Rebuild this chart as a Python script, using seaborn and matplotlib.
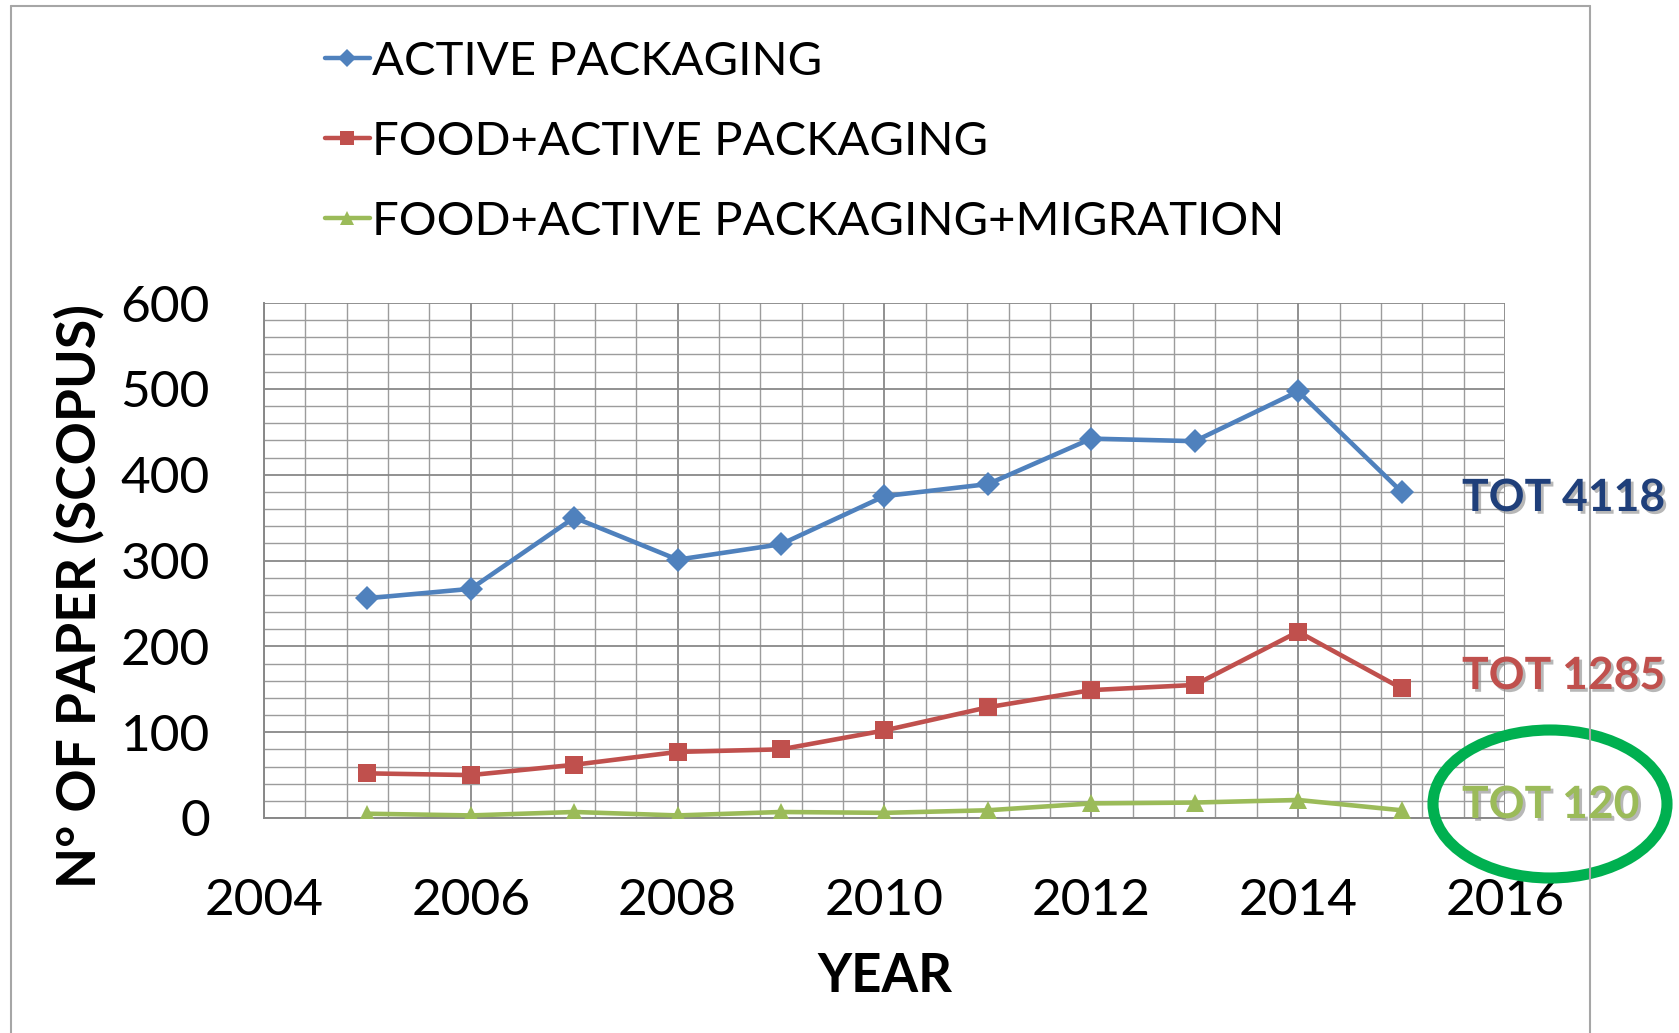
import numpy as np
import pandas as pd
import matplotlib
matplotlib.use("Agg")
import matplotlib.pyplot as plt
import matplotlib.patheffects as pe
from matplotlib.patches import Ellipse
from matplotlib.lines import Line2D
from matplotlib.ticker import MultipleLocator, FixedLocator
import seaborn as sns

# ---- data ----
years = [2005, 2006, 2007, 2008, 2009, 2010, 2011, 2012, 2013, 2014, 2015]
active_packaging = [256, 267, 350, 301, 319, 375, 389, 442, 439, 497, 380]
food_active_packaging = [52, 50, 62, 77, 80, 102, 129, 149, 155, 217, 151]
food_active_packaging_migration = [5, 3, 7, 3, 7, 6, 9, 17, 18, 21, 9]
series_names = ["ACTIVE PACKAGING", "FOOD+ACTIVE PACKAGING", "FOOD+ACTIVE PACKAGING+MIGRATION"]
totals = ["TOT 4118", "TOT 1285", "TOT 120"]
x_ticks = [2004, 2006, 2008, 2010, 2012, 2014, 2016]
y_ticks = [0, 100, 200, 300, 400, 500, 600]

colors = ["#4F81BD", "#C0504D", "#9BBB59"]
tot_colors = ["#1F3F7A", "#C0504D", "#9BBB59"]
markers = ["D", "s", "^"]
msizes = [12, 13, 13]

sns.set_theme(style="white")
plt.rcParams["font.family"] = ["Lato", "DejaVu Sans"]

W, H = 1679, 1033
fig = plt.figure(figsize=(W / 100, H / 100), dpi=100)
fig.patch.set_facecolor("white")

# chart frame (outer border, cropped at bottom)
frame_c = "#a6a6a6"
fig.add_artist(Line2D([10.5 / W, 10.5 / W], [0, 1 - 6 / H], color=frame_c, lw=1.5, transform=fig.transFigure))
fig.add_artist(Line2D([10.5 / W, 1590 / W], [1 - 6 / H, 1 - 6 / H], color=frame_c, lw=1.5, transform=fig.transFigure))
fig.add_artist(Line2D([1590 / W, 1590 / W], [0, 1 - 6 / H], color=frame_c, lw=1.5, transform=fig.transFigure))

ax = fig.add_axes([264 / W, 1 - 818 / H, (1505 - 264) / W, (818 - 303) / H])

df = pd.DataFrame({
    "year": years * 3,
    "value": active_packaging + food_active_packaging + food_active_packaging_migration,
    "series": [series_names[0]] * len(years) + [series_names[1]] * len(years) + [series_names[2]] * len(years),
})

handles = []
for i, name in enumerate(series_names):
    sub = df[df["series"] == name]
    sns.lineplot(data=sub, x="year", y="value", ax=ax, color=colors[i], linewidth=3.3,
                 marker=markers[i], markersize=msizes[i], markeredgecolor=colors[i],
                 markeredgewidth=0, legend=False, zorder=5)
    handles.append(Line2D([], [], color=colors[i], linewidth=3.2, marker=markers[i],
                          markersize=msizes[i] * 0.75, markeredgewidth=0))

ax.set_xlim(2004, 2016)
ax.set_ylim(0, 600)
ax.xaxis.set_major_locator(FixedLocator(x_ticks))
ax.yaxis.set_major_locator(FixedLocator(y_ticks))
ax.xaxis.set_minor_locator(FixedLocator(list(np.arange(2004, 2016.01, 0.4))))
ax.yaxis.set_minor_locator(MultipleLocator(20))
ax.set_xticklabels([str(t) for t in x_ticks])
ax.set_yticklabels([str(t) for t in y_ticks])

grid_c = "#888888"
ax.grid(True, which="major", color=grid_c, lw=1.3)
ax.grid(True, which="minor", color="#9c9c9c", lw=1.0)
ax.set_axisbelow(True)
for s in ["top", "right"]:
    ax.spines[s].set_visible(False)
for s in ["left", "bottom"]:
    ax.spines[s].set_color(grid_c)
    ax.spines[s].set_linewidth(1.4)

ax.tick_params(axis="both", which="major", direction="out", length=14, width=1.2,
               color=grid_c, labelsize=37, labelcolor="black")
ax.tick_params(axis="x", which="major", pad=29)
ax.tick_params(axis="y", which="major", pad=25)
ax.tick_params(axis="both", which="minor", length=0)

ax.set_xlabel("YEAR", fontsize=38, fontweight="bold", color="black", labelpad=20)
ax.set_ylabel("N° OF PAPER (SCOPUS)", fontsize=38.5, fontweight="bold", color="black")
ax.yaxis.set_label_coords((105 - 264) / 1241, (818 - 596) / 515)

# legend
leg = fig.legend(handles, series_names, loc="upper left",
                 bbox_to_anchor=(325 / W, 1 - 41 / H), frameon=False,
                 fontsize=34, handlelength=0.95, handletextpad=0.05,
                 labelspacing=0.8, borderpad=0, borderaxespad=0)
for t in leg.get_texts():
    t.set_color("black")

# totals annotations
tot_y = [498, 676, 805]
shadow = [pe.withSimplePatchShadow(offset=(2, -2), shadow_rgbFace="#888888", alpha=0.6)]
for i, txt in enumerate(totals):
    fig.text(1462 / W, 1 - tot_y[i] / H, txt, fontsize=32, fontweight="bold",
             color=tot_colors[i], ha="left", va="center", path_effects=shadow)

# green circle around TOT 120
ell = Ellipse((1550 / W, 1 - 804 / H), 234 / W, 148 / H, transform=fig.transFigure,
              fill=False, edgecolor="#00B050", lw=8)
fig.add_artist(ell)

fig.savefig("out.png", dpi=100, facecolor="white")
